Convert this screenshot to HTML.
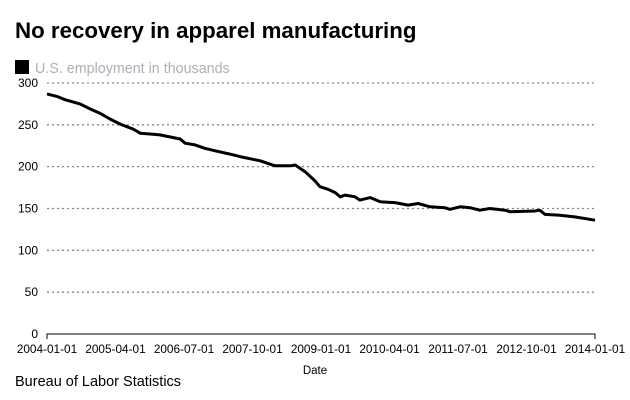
<!DOCTYPE html>
<html><head><meta charset="utf-8"><style>
body{margin:0;background:#fff;width:630px;height:400px;overflow:hidden;font-family:"Liberation Sans",sans-serif}
svg{display:block}
</style></head><body>
<svg id="chart" width="630" height="400">
<text x="15" y="38" font-size="22.3" font-weight="bold" fill="#000">No recovery in apparel manufacturing</text>
<rect x="15" y="60" width="14" height="14" fill="#000"/>
<text x="35" y="73" font-size="14.3" fill="#aab0b8">U.S. employment in thousands</text>
<g id="grid"></g>
<g id="axes"></g>
<path id="line" fill="none" stroke="#000" stroke-width="3" stroke-linejoin="round"/>
<text x="315" y="374" font-size="11.5" text-anchor="middle">Date</text>
<text x="15" y="386" font-size="14.5">Bureau of Labor Statistics</text>
</svg>
<script>
const yTicks=[0,50,100,150,200,250,300];
const xLabels=["2004-01-01","2005-04-01","2006-07-01","2007-10-01","2009-01-01","2010-04-01","2011-07-01","2012-10-01","2014-01-01"];
const dates=[2004.0,2004.18,2004.33,2004.6,2004.82,2004.96,2005.15,2005.33,2005.57,2005.7,2005.88,2006.06,2006.43,2006.52,2006.7,2006.88,2007.07,2007.34,2007.52,2007.89,2008.16,2008.44,2008.53,2008.71,2008.89,2008.98,2009.13,2009.26,2009.35,2009.44,2009.62,2009.71,2009.9,2010.08,2010.35,2010.59,2010.77,2010.99,2011.26,2011.35,2011.54,2011.72,2011.9,2012.08,2012.36,2012.45,2012.9,2012.99,2013.09,2013.36,2013.63,2014.0];
const values=[287,284,280,275,268,264,257,251,245,240,239,238,233,228,226,222,219,215,212,207,201,201,202,194,183,176,173,169,164,166,164,160,163,158,157,154,156,152,151,149,152,151,148,150,148,146,147,148,143,142,140,136];
const X=d=>47+(d-2004)*54.8;
const Y=v=>334-v*0.8367;
const ns="http://www.w3.org/2000/svg";
const grid=document.getElementById('grid'),axes=document.getElementById('axes');
yTicks.forEach(t=>{
 if(t>0){const l=document.createElementNS(ns,'line');
 l.setAttribute('x1',47);l.setAttribute('x2',595);l.setAttribute('y1',Y(t));l.setAttribute('y2',Y(t));
 l.setAttribute('stroke','#888');l.setAttribute('stroke-dasharray','2,3');l.setAttribute('stroke-width','1.3');
 
 
 grid.appendChild(l);}
 const tx=document.createElementNS(ns,'text');
 tx.setAttribute('x',38);tx.setAttribute('y',Y(t)+4);tx.setAttribute('font-size','12');tx.setAttribute('text-anchor','end');
 tx.textContent=t;
 
 
 axes.appendChild(tx);
});
const base=document.createElementNS(ns,'path');
base.setAttribute('d','M47,339V334H595V339');base.setAttribute('stroke','#000');base.setAttribute('fill','none');


axes.appendChild(base);
xLabels.forEach((s,i)=>{
 const tx=document.createElementNS(ns,'text');
 tx.setAttribute('x',X(2004+i*1.25));tx.setAttribute('y',353);tx.setAttribute('font-size','11.8');tx.setAttribute('text-anchor','middle');
 tx.textContent=s;
 
 
 axes.appendChild(tx);
});
document.getElementById('line').setAttribute('d',dates.map((d,i)=>(i?'L':'M')+X(d).toFixed(1)+','+Y(values[i]).toFixed(1)).join(''));
</script>
</body></html>
